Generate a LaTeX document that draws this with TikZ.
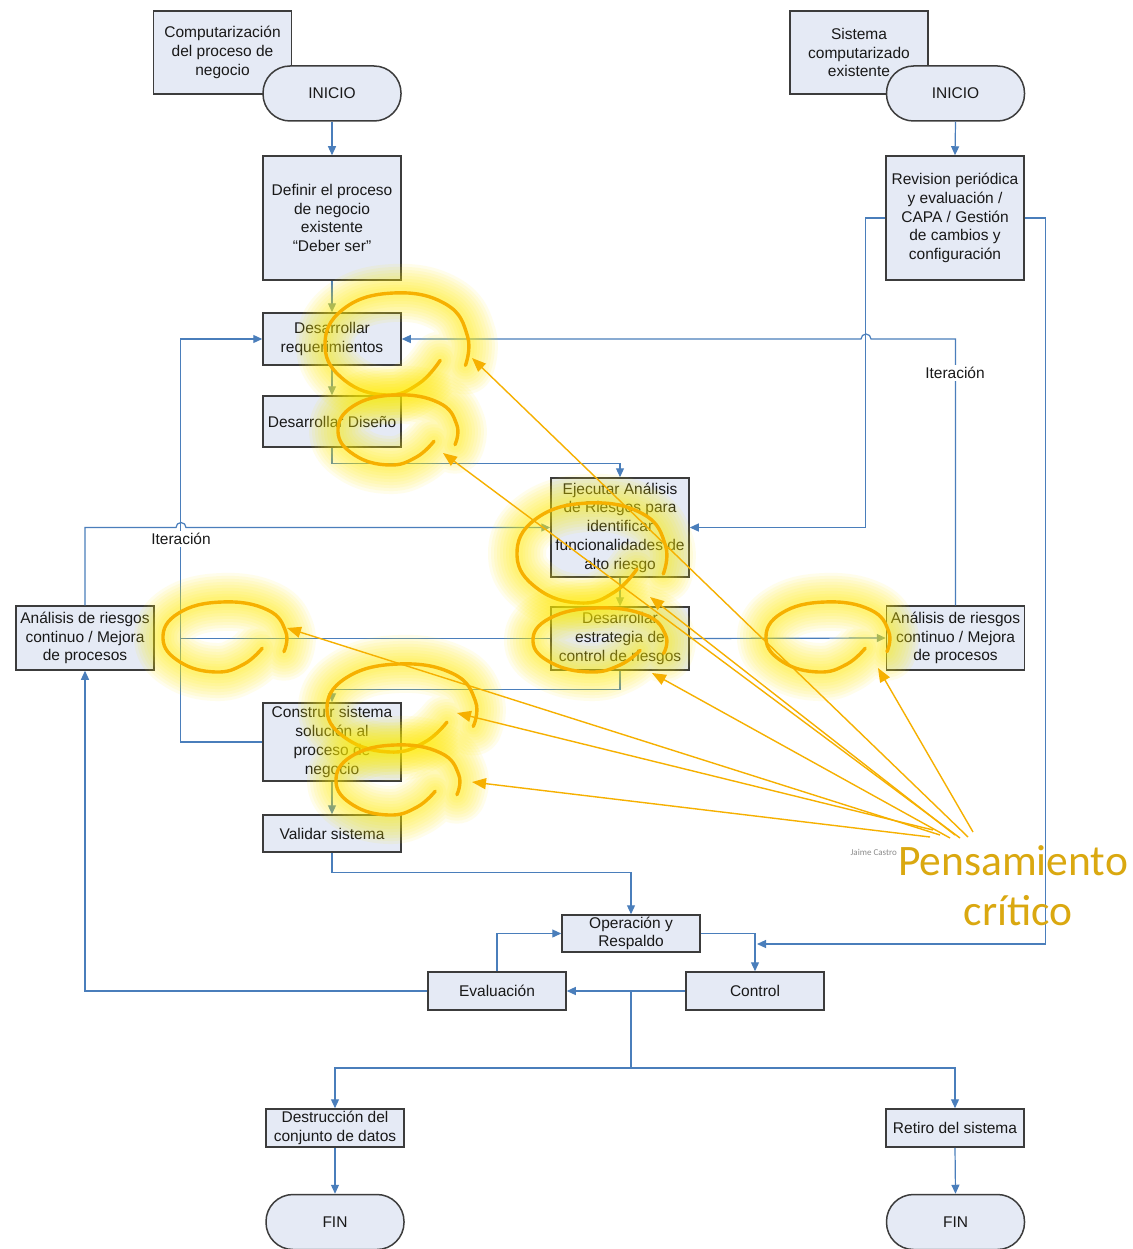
\documentclass[tikz,border=0pt]{standalone}
\usepackage{fontspec}
\setmainfont{Liberation Sans}
\newfontfamily\calibrifont{Carlito}
\usetikzlibrary{arrows.meta}

\definecolor{flow}{RGB}{74,126,187}
\definecolor{flowgray}{RGB}{118,150,150}
\definecolor{boxfill}{RGB}{229,234,245}
\definecolor{boxline}{RGB}{60,60,60}
\definecolor{glowc}{RGB}{255,238,0}
\definecolor{loopc}{RGB}{246,176,0}
\definecolor{ideac}{RGB}{218,168,16}

% hand-drawn highlight loop with a soft yellow halo: centre x, centre y, x radius, y radius
\newcommand{\hiloop}[4]{%
  \begin{scope}[shift={(#1,#2)}, xscale=#3, yscale=#4]
    \foreach \w in {58,52,46,40,34,28,22,16,11} {
      \draw[glowc, line width=\w pt, opacity=0.08, line cap=round, line join=round]
        plot[smooth, tension=0.75] coordinates {(0.6,0.32) (0.3,0.78) (-0.15,1.0) (-0.72,0.72) (-1.0,0.05) (-0.75,-0.68) (-0.05,-1.0) (0.68,-0.78) (0.98,-0.15) (0.95,0.42)};
    }
    \draw[loopc, line width=3.4pt, line cap=round, line join=round]
      plot[smooth, tension=0.75] coordinates {(0.6,0.32) (0.3,0.78) (-0.15,1.0) (-0.72,0.72) (-1.0,0.05) (-0.75,-0.68) (-0.05,-1.0) (0.68,-0.78) (0.98,-0.15) (0.95,0.42)};
  \end{scope}}

\begin{document}
\begin{tikzpicture}[x=1pt, y=-1pt,
  proc/.style={draw=boxline, fill=boxfill, line width=1.5pt, align=center, inner sep=0pt,
    text=black!90, font=\fontsize{15.5}{18.7}\selectfont, minimum width=138pt},
  term/.style={proc, rounded corners=27pt, minimum height=55pt},
  link/.style={draw=flow, line width=1.2pt, -{Triangle[length=9pt,width=8pt]}},
  gtip/.style={-{Triangle[length=9pt,width=8pt,color=flowgray]}},
  plain/.style={draw=flow, line width=1.2pt},
  lbl/.style={fill=white, inner sep=2pt, text=black!90, font=\fontsize{15.5}{18}\selectfont},
  hint/.style={draw=loopc, line width=1.4pt, -{Triangle[length=14pt,width=11pt]}}]

\useasboundingbox (0,0) rectangle (1132,1249);
\clip (0,0) rectangle (1132,1249);
\fill[white] (0,0) rectangle (1132,1249);

% ---------- process boxes ----------
\node[proc, minimum height=83pt] (comp1) at (222.5,52.5) {Computarización\\del proceso de\\negocio};
\node[term] (ini1) at (332,93.5) {INICIO};
\node[proc, minimum height=83pt] (comp2) at (859,52.5) {Sistema\\computarizado\\existente};
\node[term] (ini2) at (955.5,93.5) {INICIO};

\node[proc, minimum height=124pt] (def) at (332,218) {Definir el proceso\\de negocio\\existente\\``Deber ser''};
\node[proc, minimum height=52pt] (req) at (332,339) {Desarrollar\\requerimientos};
\node[proc, minimum height=51pt] (dis) at (332,421.5) {Desarrollar Diseño};
\node[proc, minimum height=124pt] (rev) at (955,218) {Revision periódica\\y evaluación /\\CAPA / Gestión\\de cambios y\\configuración};

\node[proc, minimum height=99pt] (eje) at (620,527.5) {Ejecutar Análisis\\de Riesgos para\\identificar\\funcionalidades de\\alto riesgo};
\node[proc, minimum height=63pt] (est) at (620,638.5) {Desarrollar\\estrategia de\\control de riesgos};
\node[proc, minimum height=64pt] (anl) at (85,638) {Análisis de riesgos\\continuo / Mejora\\de procesos};
\node[proc, minimum height=64pt] (anr) at (955.5,638) {Análisis de riesgos\\continuo / Mejora\\de procesos};

\node[proc, minimum height=78pt] (con) at (332,742) {Construir sistema\\solución al\\proceso de\\negocio};
\node[proc, minimum height=37pt] (val) at (332,833.5) {Validar sistema};
\node[proc, minimum height=37pt] (ope) at (631,933.5) {Operación y\\Respaldo};
\node[proc, minimum height=38pt] (eva) at (497,991) {Evaluación};
\node[proc, minimum height=38pt] (ctl) at (755,991) {Control};
\node[proc, minimum height=38pt] (des) at (335,1128) {Destrucción del\\conjunto de datos};
\node[proc, minimum height=38pt] (ret) at (955,1128) {Retiro del sistema};
\node[term] (fin1) at (335,1222) {FIN};
\node[term] (fin2) at (955.5,1222) {FIN};

% ---------- main flow ----------
\draw[link] (ini1.south) -- (def.north);
\draw[link, gtip] (def.south) -- (req.north);
\draw[link, gtip] (req.south) -- (dis.north);
\draw[link] (dis.south) -- ++(0,16) -| (eje.north);
\draw[link, gtip] (eje.south) -- (est.north);
\draw[link] (est.south) -- ++(0,19) -| (con.north);
\draw[link] (con.south) -- (val.north);
\draw[link] (val.south) -- ++(0,20) -| (ope.north);
\draw[link] (ope.east) -| (ctl.north);
\draw[link] (ctl.west) -- (eva.east);
\draw[link] (eva.north) |- (ope.west);
\draw[link] (eva.west) -| (anl.south);
\coordinate (split) at (ope.south |- ctl.west);
\draw[plain] (split) -- ++(0,77) coordinate (fork);
\draw[link] (fork) -| (des.north);
\draw[link] (fork) -| (ret.north);
\draw[link] (des.south) -- (fin1.north);
\draw[link] (ret.south) -- (fin2.north);

% ---------- maintenance branch ----------
\draw[link] (ini2.south) -- (rev.north);
\draw[link] (rev.west) -- ++(-20,0) |- (eje.east);
\coordinate (ctlin) at (757,944);
\draw[link] (rev.east) -- ++(21,0) |- (ctlin);

% ---------- iteration loops ----------
\draw[link] (anr.north) |- (871,339) arc[start angle=0, end angle=180, radius=5pt] -- (req.east);
\node[lbl] (itr) at (955,373) {Iteración};
\draw[link, gtip] (anl.north) |- (176,527.5) arc[start angle=180, end angle=0, radius=5pt] -- (eje.west);
\draw[link] (con.west) -- ++(-82,0) |- (req.west);
\node[lbl] (itl) at (181,539) {Iteración};
\draw[plain] (est.west) -- ++(-370,0);
\draw[link, gtip] (est.east) -- (anr.west);

% ---------- critical-thinking highlights ----------
\hiloop{397}{344}{72}{51}
\hiloop{398}{430}{60}{35}
\hiloop{592}{553}{75}{50}
\hiloop{600}{640}{67}{32}
\hiloop{828}{637}{62}{35}
\hiloop{225}{637}{62}{35}
\hiloop{402}{708}{75}{44}
\hiloop{398}{780}{62}{35}

\coordinate (s1) at (968,837);  \coordinate (t1) at (472,358);
\coordinate (s2) at (960,838);  \coordinate (t2) at (443,453);
\coordinate (s3) at (955,835);  \coordinate (t3) at (650,597);
\coordinate (s4) at (950,838);  \coordinate (t4) at (652,673);
\coordinate (s5) at (973,832);  \coordinate (t5) at (878,668);
\coordinate (s6) at (940,835);  \coordinate (t6) at (287,628);
\coordinate (s7) at (933,830);  \coordinate (t7) at (457,713);
\coordinate (s8) at (930,837);  \coordinate (t8) at (472,782);
\foreach \i in {1,...,8} { \draw[hint] (s\i) -- (t\i); }

\node[anchor=base east, inner sep=0pt, text=black!45, font=\calibrifont\fontsize{9}{10}\selectfont] (author) at (897,855) {Jaime Castro};
\node[anchor=base, inner sep=0pt, text=ideac, font=\calibrifont\fontsize{43.5}{50}\selectfont] (idea1) at (1013,875) {Pensamiento};
\node[anchor=base, inner sep=0pt, text=ideac, font=\calibrifont\fontsize{43.5}{50}\selectfont] (idea2) at (1018,925) {crítico};
\end{tikzpicture}
\end{document}
